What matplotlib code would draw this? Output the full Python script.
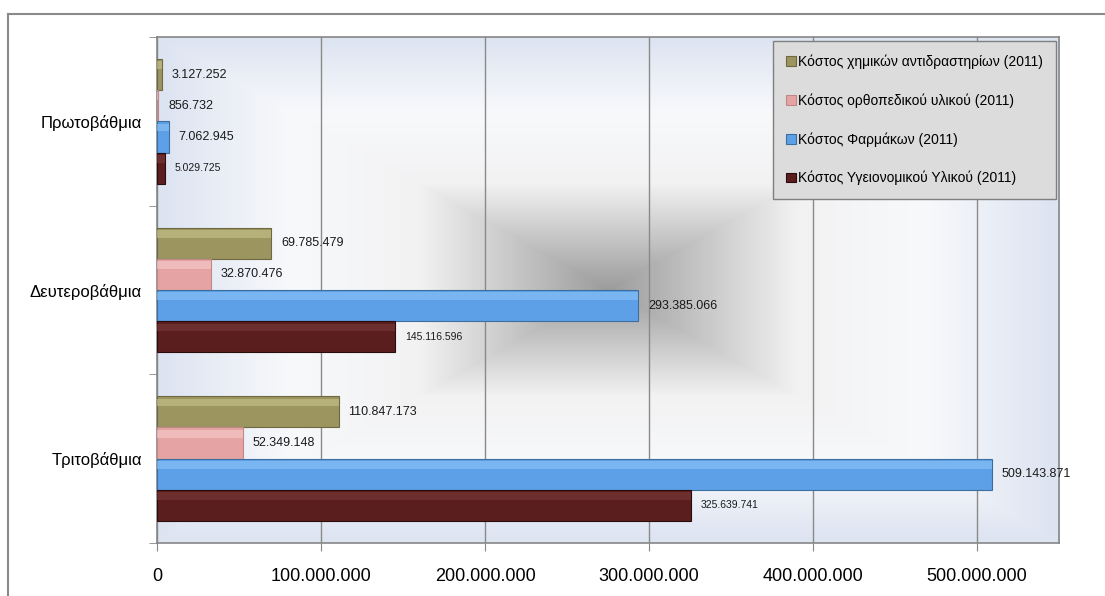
import matplotlib
matplotlib.use("Agg")
import matplotlib.pyplot as plt
import numpy as np
from matplotlib.lines import Line2D
from matplotlib.colors import to_rgb

plt.rcParams['font.family'] = ['Liberation Sans', 'DejaVu Sans']

categories = ['Πρωτοβάθμια', 'Δευτεροβάθμια', 'Τριτοβάθμια']
series = ['Κόστος χημικών αντιδραστηρίων (2011)',
          'Κόστος ορθοπεδικού υλικού (2011)',
          'Κόστος Φαρμάκων (2011)',
          'Κόστος Υγειονομικού Υλικού (2011)']
chem = [3127252, 69785479, 110847173]
ortho = [856732, 32870476, 52349148]
pharma = [7062945, 293385066, 509143871]
sanit = [5029725, 145116596, 325639741]
values = [chem, ortho, pharma, sanit]

colors = ['#9c9560', '#e6a3a3', '#5da0e8', '#5a1e1e']
light = ['#c9c38e', '#f6cccc', '#8cc4f7', '#7a3a3a']
edges = ['#6e6a40', '#c08888', '#3d6f9e', '#2a0c0c']
label_sizes = [9, 9, 9, 7.5]

xticks = [0, 100000000, 200000000, 300000000, 400000000, 500000000]


def dots(v):
    return '{:,}'.format(v).replace(',', '.')


fig = plt.figure(figsize=(11.05, 5.96), dpi=100)
ax = fig.add_axes([0.1421, 0.0889, 0.8163, 0.849])

# rectangular "from centre" gradient of the plot area
n = 400
u = np.linspace(-1, 1, n)
U, V = np.meshgrid(u, u)
t = np.maximum(np.abs(U), np.abs(V))
stops = [0.0, 0.42, 0.7, 1.0]
cols = [np.array(to_rgb(c)) for c in ['#9c9c9c', '#f2f2f3', '#f8f9fb', '#dce3f1']]
img = np.zeros((n, n, 3))
for k in range(3):
    img[..., k] = np.interp(t, stops, [c[k] for c in cols])
ax.imshow(img, extent=[0, 1, 0, 1], transform=ax.transAxes,
          aspect='auto', zorder=0, interpolation='bilinear')

y = np.arange(len(categories))
h = 0.185
offsets = [-1.5 * h, -0.5 * h, 0.5 * h, 1.5 * h]

for i, name in enumerate(series):
    pos = y + offsets[i]
    bars = ax.barh(pos, values[i], height=h, color=colors[i],
                   edgecolor=edges[i], linewidth=0.8, label=name, zorder=3)
    # bevel highlight on top of each bar
    ax.barh(pos - h * 0.3, values[i], height=h * 0.25, color=light[i],
            linewidth=0, zorder=4, alpha=0.6)
    for b, v in zip(bars, values[i]):
        ax.annotate(dots(v), xy=(v, b.get_y() + b.get_height() / 2),
                    xytext=(7, 0), textcoords='offset points',
                    ha='left', va='center', fontsize=label_sizes[i],
                    color='#1a1a1a', zorder=6)

ax.set_xlim(0, 550000000)
ax.set_ylim(2.5, -0.5)
ax.set_xticks(xticks)
ax.set_xticklabels([dots(v) for v in xticks], fontsize=13)
ax.set_yticks(y)
ax.set_yticklabels(categories, fontsize=12)
ax.set_yticks([-0.5, 0.5, 1.5, 2.5], minor=True)
ax.tick_params(axis='y', which='major', length=0, pad=11)
ax.tick_params(axis='y', which='minor', length=6, color='#868686', direction='out')
ax.tick_params(axis='x', length=6, color='#868686', direction='out', pad=12)
ax.grid(axis='x', color='#8a8a8a', linewidth=1.0, zorder=1)
ax.set_axisbelow(True)
for s in ax.spines.values():
    s.set_color('#868686')
    s.set_linewidth(1.2)

leg = ax.legend(loc='upper right', bbox_to_anchor=(1.0, 0.997), fontsize=10,
                frameon=True, fancybox=False, framealpha=1,
                facecolor='#dcdcdc', edgecolor='#7f7f7f',
                handlelength=0.7, handleheight=0.7, handletextpad=0.15,
                labelspacing=1.75, borderpad=0.95, borderaxespad=0.2)
leg.set_zorder(10)

# outer chart frame
fig.add_artist(Line2D([0.0072, 1.0], [0.9765, 0.9765], color='#8a8a8a', linewidth=1.5))
fig.add_artist(Line2D([0.0072, 0.0072], [0.0, 0.9765], color='#8a8a8a', linewidth=1.5))

fig.savefig('out.png', dpi=100, facecolor='white')
